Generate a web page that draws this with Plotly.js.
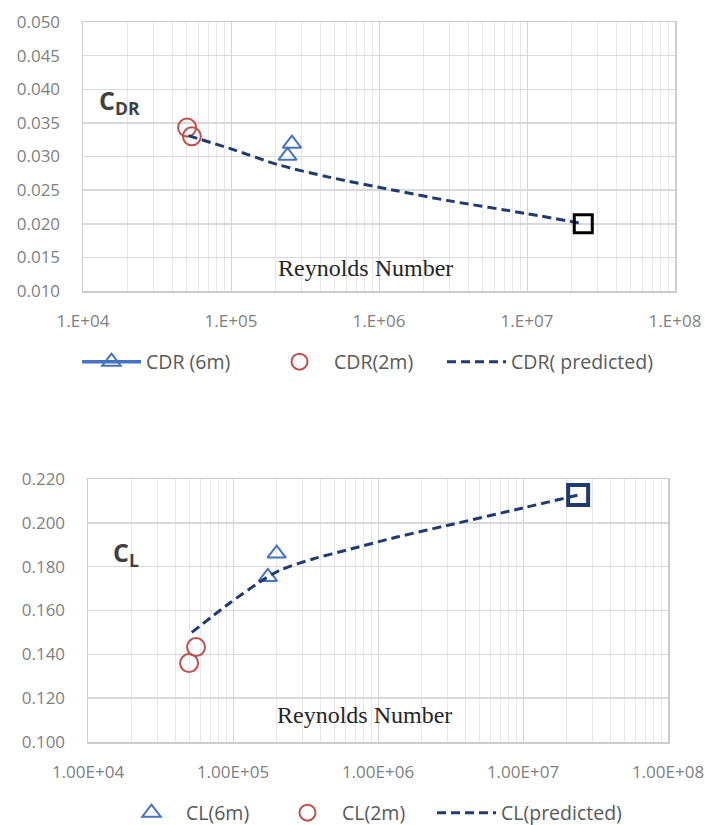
<!DOCTYPE html>
<html>
<head>
<meta charset="utf-8">
<script src="https://cdn.plot.ly/plotly-3.0.1.min.js"></script>
<style>html,body{margin:0;padding:0;background:#fff;}#chart{width:705px;height:825px;}</style>
</head>
<body>
<div id="chart"></div>
<script>
// ---- Top chart: drag coefficient CDR vs Reynolds number ----
const cdr6mRe = [241000, 258000];
const cdr6m = [0.0301, 0.0319];
const cdr2mRe = [50500, 54400];
const cdr2m = [0.0343, 0.0330];
const cdrPredRe = [51500, 98000, 214000, 467000, 1320000, 3000000, 10000000, 24000000];
const cdrPred = [0.0331, 0.0312, 0.0287, 0.0269, 0.0249, 0.0234, 0.0215, 0.0200];

// ---- Bottom chart: lift coefficient CL vs Reynolds number ----
const cl6mRe = [174000, 200000];
const cl6m = [0.1753, 0.1860];
const cl2mRe = [49800, 55600];
const cl2m = [0.1360, 0.1433];
const clPredRe = [52000, 95000, 153000, 211000, 356000, 611000, 1350000, 3000000, 10000000, 24000000];
const clPred = [0.1500, 0.1634, 0.1730, 0.1784, 0.1835, 0.1876, 0.1935, 0.1988, 0.2068, 0.2127];

// tick labels
const xTickVals = [1e4, 1e5, 1e6, 1e7, 1e8];
const xTickTextTop = ['1.E+04', '1.E+05', '1.E+06', '1.E+07', '1.E+08'];
const xTickTextBot = ['1.00E+04', '1.00E+05', '1.00E+06', '1.00E+07', '1.00E+08'];

const navy = '#1f3b70';
const blue = '#4472c4';
const red = '#c0504d';

// break the 6m series so no connecting line is drawn between points (legend still shows line+marker)
function withGaps(arr) {
  const out = [];
  arr.forEach((v, i) => { if (i > 0) out.push(null); out.push(v); });
  return out;
}
const last = a => [a[a.length - 1]];

const traces = [
  {
    x: withGaps(cdr6mRe), y: withGaps(cdr6m), name: 'CDR (6m)', mode: 'lines+markers',
    connectgaps: false, xaxis: 'x', yaxis: 'y', legend: 'legend',
    line: {color: blue, width: 3.5},
    marker: {symbol: 'triangle-up-open', size: 16, color: blue, line: {width: 2, color: blue}}
  },
  {
    x: cdr2mRe, y: cdr2m, name: 'CDR(2m)', mode: 'markers', xaxis: 'x', yaxis: 'y', legend: 'legend2',
    marker: {symbol: 'circle-open', size: 18, color: red, line: {width: 2, color: red}}
  },
  {
    x: cdrPredRe, y: cdrPred, name: 'CDR( predicted)', mode: 'lines', xaxis: 'x', yaxis: 'y', legend: 'legend3',
    line: {color: navy, width: 3, dash: '9px,5px', shape: 'spline', smoothing: 0.8}
  },
  {
    x: last(cdrPredRe), y: last(cdrPred), mode: 'markers', showlegend: false, xaxis: 'x', yaxis: 'y',
    marker: {symbol: 'square-open', size: 18, color: '#000', line: {width: 3, color: '#000'}}
  },
  {
    x: cl6mRe, y: cl6m, name: 'CL(6m)', mode: 'markers', xaxis: 'x2', yaxis: 'y2', legend: 'legend4',
    marker: {symbol: 'triangle-up-open', size: 16, color: blue, line: {width: 2, color: blue}}
  },
  {
    x: cl2mRe, y: cl2m, name: 'CL(2m)', mode: 'markers', xaxis: 'x2', yaxis: 'y2', legend: 'legend5',
    marker: {symbol: 'circle-open', size: 18, color: red, line: {width: 2, color: red}}
  },
  {
    x: clPredRe, y: clPred, name: 'CL(predicted)', mode: 'lines', xaxis: 'x2', yaxis: 'y2', legend: 'legend6',
    line: {color: navy, width: 3, dash: '9px,5px', shape: 'spline', smoothing: 0.8}
  },
  {
    x: last(clPredRe), y: last(clPred), mode: 'markers', showlegend: false, xaxis: 'x2', yaxis: 'y2',
    marker: {symbol: 'square-open', size: 20, color: navy, line: {width: 4, color: navy}}
  }
];

const tickFont = {family: 'Open Sans, sans-serif', size: 17, color: '#7f7f7f'};
function xAxis(domain, ticktext, anchor) {
  return {
    type: 'log', range: [4, 8], domain: domain, anchor: anchor,
    tickmode: 'array', tickvals: xTickVals, ticktext: ticktext,
    showgrid: true, gridcolor: '#d4d4d4', gridwidth: 1,
    minor: {dtick: 'D1', showgrid: true, gridcolor: '#e6e6e6', gridwidth: 1, ticks: ''},
    showline: true, linecolor: '#cccccc', linewidth: 1.5, mirror: true,
    ticks: '', ticklabelstandoff: 14, tickfont: tickFont, zeroline: false
  };
}
function yAxis(domain, range, dtick, anchor) {
  return {
    range: range, domain: domain, anchor: anchor, dtick: dtick, tick0: range[0], tickformat: '.3f',
    showgrid: true, gridcolor: '#d9d9d9', gridwidth: 1.5,
    showline: true, linecolor: '#cccccc', linewidth: 1.5, mirror: true,
    ticks: '', ticklabelstandoff: 18, tickfont: tickFont, zeroline: false
  };
}

const legendFont = {family: 'Open Sans, sans-serif', size: 19.5, color: '#595959'};
function leg(xPx, yPx) {
  return {
    orientation: 'h', x: xPx/705, xanchor: 'left', y: 1 - yPx/825, yanchor: 'middle',
    font: legendFont, itemwidth: 59, bgcolor: 'rgba(0,0,0,0)', borderwidth: 0
  };
}
const layout = {
  width: 705, height: 825,
  margin: {l: 0, r: 0, t: 0, b: 0, autoexpand: false},
  paper_bgcolor: '#ffffff', plot_bgcolor: '#ffffff',
  showlegend: true,
  xaxis: xAxis([83/705, 675/705], xTickTextTop, 'y'),
  yaxis: yAxis([1 - 291/825, 1 - 22/825], [0.010, 0.050], 0.005, 'x'),
  xaxis2: xAxis([88/705, 668/705], xTickTextBot, 'y2'),
  yaxis2: yAxis([1 - 742/825, 1 - 479/825], [0.100, 0.220], 0.020, 'x2'),
  legend: leg(77, 362),
  legend2: leg(265, 362),
  legend3: leg(442, 362),
  legend4: leg(117, 813),
  legend5: leg(273, 813),
  legend6: leg(432, 813),
  annotations: [
    {text: 'C<sub>DR</sub>', xref: 'paper', yref: 'paper', x: 97/705, y: 1 - 101/825,
     xanchor: 'left', yanchor: 'middle', showarrow: false,
     font: {family: 'Open Sans, sans-serif', size: 25, color: '#404040', weight: 'bold'}},
    {text: 'Reynolds Number', xref: 'paper', yref: 'paper', x: 365/705, y: 1 - 268/825,
     xanchor: 'center', yanchor: 'middle', showarrow: false,
     font: {family: 'Liberation Serif, Times New Roman, serif', size: 24, color: '#262626'}},
    {text: 'C<sub>L</sub>', xref: 'paper', yref: 'paper', x: 111/705, y: 1 - 553/825,
     xanchor: 'left', yanchor: 'middle', showarrow: false,
     font: {family: 'Open Sans, sans-serif', size: 25, color: '#404040', weight: 'bold'}},
    {text: 'Reynolds Number', xref: 'paper', yref: 'paper', x: 364/705, y: 1 - 715/825,
     xanchor: 'center', yanchor: 'middle', showarrow: false,
     font: {family: 'Liberation Serif, Times New Roman, serif', size: 24, color: '#262626'}}
  ]
};

Plotly.newPlot('chart', traces, layout, {staticPlot: true, displayModeBar: false});
</script>
</body>
</html>
